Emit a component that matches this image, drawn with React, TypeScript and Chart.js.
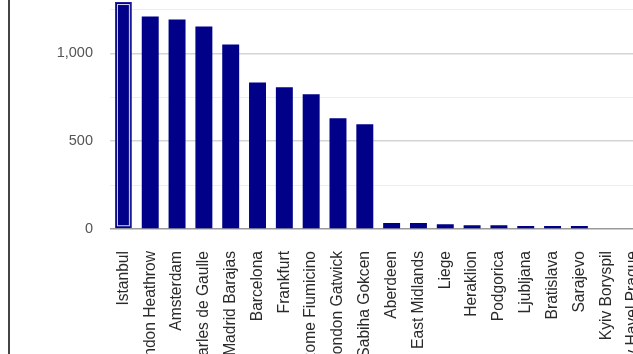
import React, { useEffect, useRef } from "react";
import { Chart, registerables } from "chart.js";

Chart.register(...registerables);

const airports = [
  "Istanbul",
  "London Heathrow",
  "Amsterdam",
  "Paris Charles de Gaulle",
  "Madrid Barajas",
  "Barcelona",
  "Frankfurt",
  "Rome Fiumicino",
  "London Gatwick",
  "Istanbul Sabiha Gokcen",
  "Aberdeen",
  "East Midlands",
  "Liege",
  "Heraklion",
  "Podgorica",
  "Ljubljana",
  "Bratislava",
  "Sarajevo",
  "Kyiv Boryspil",
  "Vaclav Havel Prague",
];

const values = [1293, 1210, 1193, 1153, 1051, 835, 807, 767, 631, 597, 34, 34, 27, 21, 21, 17, 17, 17, 0, 0];

const yMax = 1500;
const yStep = 250;
const labelStep = 500;

const highlightPlugin = {
  id: "highlightFirst",
  afterDatasetsDraw(chart: any) {
    const meta = chart.getDatasetMeta(0);
    const bar = meta.data[0];
    if (!bar) return;
    const { x, y, base, width } = bar.getProps(["x", "y", "base", "width"], true);
    const ctx = chart.ctx;
    ctx.save();
    ctx.strokeStyle = "#d8d8ee";
    ctx.lineWidth = 1;
    ctx.strokeRect(x - width / 2 + 2.5, y + 2.5, width - 5, base - y - 5);
    ctx.restore();
  },
};

export default function App() {
  const ref = useRef<HTMLCanvasElement>(null);

  useEffect(() => {
    if (!ref.current) return;
    const chart = new Chart(ref.current, {
      type: "bar",
      data: {
        labels: airports,
        datasets: [
          {
            data: values,
            backgroundColor: "#000088",
            borderColor: values.map((_, i) => (i === 0 ? "#2020a0" : "#000088")),
            borderWidth: values.map((_, i) => (i === 0 ? 1 : 0)),
            barPercentage: 0.79,
            categoryPercentage: 0.8,
          },
        ],
      },
      plugins: [highlightPlugin],
      options: {
        responsive: false,
        animation: false,
        layout: { padding: { left: 0, right: 10, top: 0, bottom: 0 } },
        plugins: { legend: { display: false }, tooltip: { enabled: false } },
        scales: {
          x: {
            border: { display: false },
            grid: { display: false, drawTicks: false },
            ticks: {
              autoSkip: false,
              maxRotation: 90,
              minRotation: 90,
              padding: 22,
              color: "#2a2a2a",
              font: { family: "Liberation Sans, Arial, sans-serif", size: 15.6 },
            },
            afterFit(scale: any) {
              scale.height = 150;
            },
          },
          y: {
            min: 0,
            max: yMax,
            border: { display: false },
            grid: {
              drawTicks: false,
              color: (c: any) => {
                const v = c.tick ? c.tick.value : 0;
                if (v === 0) return "#999";
                return v % labelStep === 0 ? "#d4d4d4" : "#eeeeee";
              },
              lineWidth: (c: any) => {
                const v = c.tick ? c.tick.value : 0;
                return v % labelStep === 0 ? 1.5 : 1;
              },
            },
            ticks: {
              stepSize: yStep,
              padding: 17,
              color: "#555",
              font: { family: "Liberation Sans, Arial, sans-serif", size: 14.5 },
              callback: (v: any) => (Number(v) % labelStep === 0 ? Number(v).toLocaleString("en-US") : ""),
            },
            afterFit(scale: any) {
              scale.width = 110;
            },
          },
        },
      },
    });
    return () => chart.destroy();
  }, []);

  return (
    <div style={{ position: "fixed", left: 0, top: 0, width: 633, height: 354, overflow: "hidden", background: "#fff" }}>
      <canvas ref={ref} width={674} height={439} style={{ position: "absolute", left: 0, top: -60, width: 674, height: 439 }} />
      <div style={{ position: "absolute", left: 8, top: 0, width: 2, height: 354, background: "#444" }} />
    </div>
  );
}
